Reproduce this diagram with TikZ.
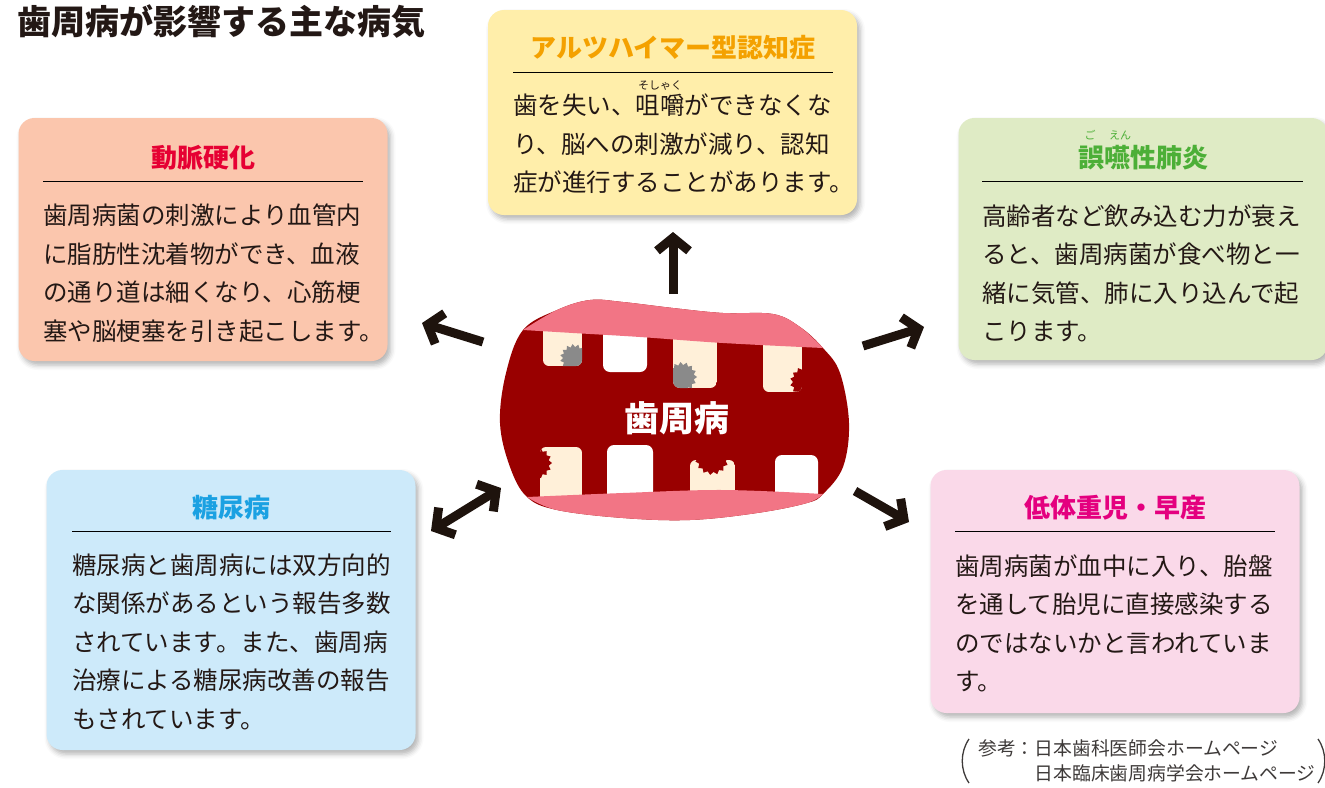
\documentclass[tikz,border=0pt]{standalone}
\usepackage{fontspec}
\setmainfont{Noto Sans CJK JP}
\usepackage{tikz}
\usetikzlibrary{arrows.meta,shadows.blur}

\definecolor{ink}{HTML}{231815}
\definecolor{arrowink}{HTML}{1E130D}
\definecolor{alzfill}{HTML}{FFEEAA}
\definecolor{alzhead}{HTML}{F4A100}
\definecolor{artfill}{HTML}{FBC6AD}
\definecolor{arthead}{HTML}{E60033}
\definecolor{pneufill}{HTML}{DFEBC5}
\definecolor{pneuhead}{HTML}{4CAF37}
\definecolor{diafill}{HTML}{CDEAFA}
\definecolor{diahead}{HTML}{1BA1E2}
\definecolor{lowfill}{HTML}{FAD9E9}
\definecolor{lowhead}{HTML}{E4007F}
\definecolor{mouthred}{HTML}{990000}
\definecolor{lip}{HTML}{F27585}
\definecolor{cream}{HTML}{FFF0D9}
\definecolor{decay}{HTML}{8A8A8A}
\definecolor{notegray}{HTML}{3E3A39}

% ragged spot on a tooth (decay or bite)
\newcommand\jagblob[4]{%
  \fill[#4] plot[domain=0:29, samples=30, variable=\k]
    ({#1+(#3-3*mod(\k,2))*cos(12*\k)}, {#2+(#3-3*mod(\k,2))*sin(12*\k)}) -- cycle;}

\begin{document}
\begin{tikzpicture}[
    x=1pt, y=-1pt,
    card/.style={rounded corners=16pt, minimum width=369pt, inner sep=0pt,
        blur shadow={shadow xshift=3pt, shadow yshift=-4pt, shadow blur radius=5pt, shadow opacity=30}},
    head/.style={font=\fontsize{26}{30}\selectfont\bfseries, inner sep=0pt},
    body/.style={font=\fontsize{24.5}{38.5}\selectfont, text=ink, align=left, anchor=base west, inner sep=0pt},
    ruby/.style={font=\fontsize{11}{12}\selectfont, inner sep=0pt},
    rule/.style={draw=black, line width=0.9pt},
    arr/.style={draw=arrowink, line width=9pt, -{Straight Barb[length=13pt, width=32pt]}},
    dblarr/.style={draw=arrowink, line width=9pt, {Straight Barb[length=13pt, width=32pt]}-{Straight Barb[length=13pt, width=32pt]}}
]
\useasboundingbox (0,0) rectangle (1325,787);

\node[anchor=west, inner sep=0pt, text=ink, font=\fontsize{34}{36}\selectfont\bfseries] (title) at (17,22)
    {歯周病が影響する主な病気};

% disease cards
\node[card, fill=alzfill, minimum height=205pt] (alz) at (672.5,112.5) {};
\node[card, fill=artfill, minimum height=243pt] (art) at (203,239.5) {};
\node[card, fill=pneufill, minimum height=242pt] (pneu) at (1143,239) {};
\node[card, fill=diafill, minimum height=280pt] (dia) at (231,610) {};
\node[card, fill=lowfill, minimum height=243pt] (low) at (1115,591.5) {};

\node[head, text=alzhead] (alz-h) at (673,48) {アルツハイマー型認知症};
\node[head, text=arthead] (art-h) at (203,158) {動脈硬化};
\node[head, text=pneuhead] (pneu-h) at (1143,158) {誤嚥性肺炎};
\node[head, text=diahead] (dia-h) at (231,508) {糖尿病};
\node[head, text=lowhead] (low-h) at (1115,508) {低体重児・早産};

\node[ruby, text=ink] (alz-r) at (660,86) {そしゃく};
\node[ruby, text=pneuhead] (pneu-r1) at (1090,135) {ご};
\node[ruby, text=pneuhead] (pneu-r2) at (1120,135) {えん};

\draw[rule] (513,72) -- (833,72);
\draw[rule] (43,181) -- (363,181);
\draw[rule] (982,181) -- (1303,181);
\draw[rule] (72,531) -- (391,531);
\draw[rule] (955,531) -- (1275,531);

% body texts sit on the baseline of their last line
\node[body] (alz-t) at (513,191.5)
    {歯を失い、咀嚼ができなくな\\り、脳への刺激が減り、認知\\症が進行することがあります。};
\node[body] (art-t) at (43,340)
    {歯周病菌の刺激により血管内\\に脂肪性沈着物ができ、血液\\の通り道は細くなり、心筋梗\\塞や脳梗塞を引き起こします。};
\node[body] (pneu-t) at (982,340.5)
    {高齢者など飲み込む力が衰え\\ると、歯周病菌が食べ物と一\\緒に気管、肺に入り込んで起\\こります。};
\node[body] (dia-t) at (72,728)
    {糖尿病と歯周病には双方向的\\な関係があるという報告多数\\されています。また、歯周病\\治療による糖尿病改善の報告\\もされています。};
\node[body] (low-t) at (955,690.5)
    {歯周病菌が血中に入り、胎盤\\を通して胎児に直接感染する\\のではないかと言われていま\\す。};

% mouth
\fill[mouthred] plot[smooth cycle, tension=0.6] coordinates {
    (523,330) (557,310) (590,300) (623,302) (673,308) (723,313) (773,314) (800,327)
    (823,348) (840,373) (849,423) (843,467) (823,494) (807,503) (757,513) (690,520)
    (623,518) (557,510) (527,497) (510,467) (500,423) (506,373)};

\begin{scope}
  \clip[rounded corners=6pt] (543,322) rectangle (582,366);
  \fill[cream] (543,322) rectangle (582,366);
  \jagblob{574}{358}{14}{decay}
\end{scope}
\fill[white, rounded corners=7pt] (603,320) rectangle (647,372);
\begin{scope}
  \clip[rounded corners=7pt] (673,322) rectangle (717,388);
  \fill[cream] (673,322) rectangle (717,388);
  \jagblob{682}{377}{15}{decay}
\end{scope}
\begin{scope}
  \clip[rounded corners=6pt] (763,330) rectangle (802,392);
  \fill[cream] (763,330) rectangle (802,392);
  \jagblob{806}{382}{16}{mouthred}
\end{scope}
\begin{scope}
  \clip[rounded corners=6pt] (540,447) rectangle (582,505);
  \fill[cream] (540,447) rectangle (582,505);
  \jagblob{536}{463}{16}{mouthred}
\end{scope}
\fill[white, rounded corners=7pt] (607,445) rectangle (653,505);
\begin{scope}
  \clip[rounded corners=6pt] (690,460) rectangle (735,505);
  \fill[cream] (690,460) rectangle (735,505);
  \jagblob{712}{458}{17}{mouthred}
\end{scope}
\fill[white, rounded corners=7pt] (775,455) rectangle (818,500);

\fill[lip] plot[smooth, tension=0.6] coordinates {(523,330) (557,310) (590,300) (623,302)
    (673,308) (723,313) (773,314) (800,327) (823,348)}
  -- plot[smooth, tension=0.6] coordinates {(823,348) (723,343) (640,337) (573,333) (523,330)} -- cycle;
\fill[lip] plot[smooth, tension=0.6] coordinates {(527,497) (623,493) (723,490) (823,494)}
  -- plot[smooth, tension=0.6] coordinates {(823,494) (807,503) (757,513) (690,520) (623,518)
    (557,510) (527,497)} -- cycle;

\node[text=white, inner sep=0pt, font=\fontsize{35}{38}\selectfont\bfseries] (mouth) at (677,418) {歯周病};

% arrows out of the mouth
\coordinate (up-a) at (673,294);
\coordinate (up-b) at (673,232);
\coordinate (nw-a) at (483,342);
\coordinate (nw-b) at (422,323);
\coordinate (ne-a) at (863,346);
\coordinate (ne-b) at (924,327);
\coordinate (sw-a) at (501,488);
\coordinate (sw-b) at (431,531);
\coordinate (se-a) at (855,491);
\coordinate (se-b) at (909,522);
\draw[arr] (up-a) -- (up-b);
\draw[arr] (nw-a) -- (nw-b);
\draw[arr] (ne-a) -- (ne-b);
\draw[dblarr] (sw-a) -- (sw-b);
\draw[arr] (se-a) -- (se-b);

% sources
\node[anchor=base west, inner sep=0pt, text=notegray, align=left,
    font=\fontsize{18.8}{25}\selectfont] (src) at (978,780)
    {参考：日本歯科医師会ホームページ\\\hphantom{参考：}日本臨床歯周病学会ホームページ};
\draw[notegray, line width=1.3pt] (969,739) .. controls (960,752) and (960,770) .. (969,783);
\draw[notegray, line width=1.3pt] (1318,739) .. controls (1327,752) and (1327,770) .. (1318,783);

\end{tikzpicture}
\end{document}
